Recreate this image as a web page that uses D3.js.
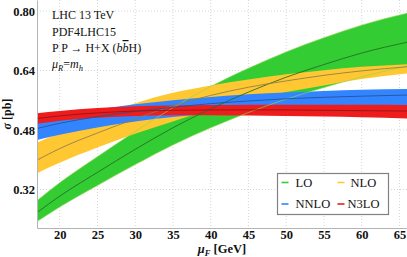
<!DOCTYPE html>
<html>
<head>
<meta charset="utf-8">
<script src="https://cdn.jsdelivr.net/npm/d3@7"></script>
<style>
  html, body { margin: 0; padding: 0; background: #fff; }
  svg { display: block; font-family: 'Liberation Serif', 'DejaVu Serif', serif; }
</style>
</head>
<body>
<div id="chart"></div>
<script>
// muF grid the bands were read at (GeV)
const muF = [17, 20, 25, 30, 35, 40, 45, 50, 55, 60, 66];

// sigma [pb]: central value and scale band per order
const loCentral = [0.258, 0.302, 0.366, 0.428, 0.486, 0.537, 0.582, 0.622, 0.656, 0.687, 0.716];
const loUpper = [0.290, 0.338, 0.408, 0.476, 0.540, 0.597, 0.646, 0.690, 0.728, 0.762, 0.794];
const loLower = [0.234, 0.273, 0.331, 0.387, 0.440, 0.486, 0.527, 0.563, 0.594, 0.623, 0.652];

const nloCentral = [0.399, 0.430, 0.472, 0.510, 0.545, 0.573, 0.595, 0.612, 0.627, 0.639, 0.650];
const nloUpper = [0.446, 0.472, 0.516, 0.552, 0.580, 0.600, 0.616, 0.630, 0.641, 0.650, 0.657];
const nloLower = [0.364, 0.392, 0.433, 0.470, 0.503, 0.535, 0.560, 0.582, 0.600, 0.617, 0.632];

const nnloCentral = [0.484, 0.498, 0.516, 0.530, 0.541, 0.551, 0.558, 0.564, 0.568, 0.571, 0.574];
const nnloUpper = [0.505, 0.517, 0.535, 0.549, 0.560, 0.569, 0.576, 0.581, 0.585, 0.588, 0.590];
const nnloLower = [0.453, 0.467, 0.487, 0.503, 0.515, 0.524, 0.532, 0.538, 0.542, 0.545, 0.547];

const n3loCentral = [0.511, 0.518, 0.526, 0.531, 0.533, 0.534, 0.534, 0.534, 0.533, 0.532, 0.531];
const n3loUpper = [0.525, 0.531, 0.539, 0.544, 0.546, 0.547, 0.548, 0.548, 0.548, 0.548, 0.547];
const n3loLower = [0.497, 0.505, 0.513, 0.518, 0.520, 0.520, 0.519, 0.518, 0.516, 0.514, 0.511];

const xTicks = [20, 25, 30, 35, 40, 45, 50, 55, 60, 65];
const yTicks = [0.32, 0.48, 0.64, 0.80];
const legendLabels = ['LO', 'NLO', 'NNLO', 'N3LO'];

const attrs = {
  svgWidth: 407,
  svgHeight: 257,
  marginLeft: 37,
  marginTop: 0,
  chartWidth: 370,
  chartHeight: 228,
  bandColors: ['#33cc33', '#ffc832', '#3385ff', '#ee1c1c'],
  lineColors: ['#256b25', '#8c7a4e', '#27508f', '#8a1717'],
};

const series = [
  { central: loCentral, upper: loUpper, lower: loLower },
  { central: nloCentral, upper: nloUpper, lower: nloLower },
  { central: nnloCentral, upper: nnloUpper, lower: nnloLower },
  { central: n3loCentral, upper: n3loUpper, lower: n3loLower },
].map((s, i) => ({
  label: legendLabels[i],
  points: muF.map((m, j) => ({ x: m, c: s.central[j], hi: s.upper[j], lo: s.lower[j] })),
}));

const svg = d3.select('#chart')
  .append('svg')
  .attr('width', attrs.svgWidth)
  .attr('height', attrs.svgHeight);

const chart = svg.append('g')
  .attr('transform', 'translate(' + attrs.marginLeft + ',' + attrs.marginTop + ')');

// Scales.
const xScale = d3.scaleLinear()
  .domain([17, 66])
  .range([0, attrs.chartWidth]);

const yScale = d3.scaleLinear()
  .domain([0.2165, 0.8296])
  .range([attrs.chartHeight, 0]);

// Grid.
chart.append('g').attr('class', 'grid')
  .selectAll('line.vx')
  .data(xTicks)
  .enter()
  .append('line')
  .attr('x1', d => xScale(d))
  .attr('x2', d => xScale(d))
  .attr('y1', 0)
  .attr('y2', attrs.chartHeight)
  .attr('stroke', '#d6d6d6')
  .attr('stroke-dasharray', '1 2');

chart.append('g').attr('class', 'grid')
  .selectAll('line.hy')
  .data(yTicks)
  .enter()
  .append('line')
  .attr('x1', 0)
  .attr('x2', attrs.chartWidth)
  .attr('y1', d => yScale(d))
  .attr('y2', d => yScale(d))
  .attr('stroke', '#d6d6d6')
  .attr('stroke-dasharray', '1 2');

// Clip for the bands.
svg.append('defs').append('clipPath')
  .attr('id', 'plot-clip')
  .append('rect')
  .attr('width', attrs.chartWidth)
  .attr('height', attrs.chartHeight);

const plot = chart.append('g').attr('clip-path', 'url(#plot-clip)');

const area = d3.area()
  .curve(d3.curveMonotoneX)
  .x(d => xScale(d.x))
  .y0(d => yScale(d.lo))
  .y1(d => yScale(d.hi));

const line = key => d3.line()
  .curve(d3.curveMonotoneX)
  .x(d => xScale(d.x))
  .y(d => yScale(d[key]));

// Bands, LO first so higher orders sit on top.
plot.selectAll('.band')
  .data(series)
  .enter()
  .append('path')
  .attr('class', 'band')
  .attr('d', d => area(d.points))
  .attr('fill', (d, i) => attrs.bandColors[i]);

// Faint LO band edges that show through the other bands.
['hi', 'lo'].forEach(key => {
  plot.append('path')
    .attr('d', line(key)(series[0].points))
    .attr('fill', 'none')
    .attr('stroke', '#8fd64a')
    .attr('stroke-opacity', 0.8)
    .attr('stroke-width', 0.8);
});

// Central lines.
plot.selectAll('.central')
  .data(series)
  .enter()
  .append('path')
  .attr('class', 'central')
  .attr('d', d => line('c')(d.points))
  .attr('fill', 'none')
  .attr('stroke', (d, i) => attrs.lineColors[i])
  .attr('stroke-opacity', 0.85)
  .attr('stroke-width', 1);

// Axes.
const xAxis = d3.axisBottom(xScale)
  .tickValues(xTicks)
  .tickSize(0)
  .tickPadding(2)
  .tickFormat(d3.format('d'));

const yAxis = d3.axisLeft(yScale)
  .tickValues(yTicks)
  .tickSize(0)
  .tickPadding(2)
  .tickFormat(d3.format('.2f'));

const gx = chart.append('g')
  .attr('transform', 'translate(0,' + attrs.chartHeight + ')')
  .call(xAxis);

const gy = chart.append('g').call(yAxis);

[gx, gy].forEach(g => {
  g.select('.domain').attr('stroke', '#b4b4b4').attr('stroke-width', 1);
  g.selectAll('text')
    .attr('font-family', "'Liberation Serif', serif")
    .attr('font-weight', 'bold')
    .attr('font-size', 12.5)
    .attr('fill', '#111');
});

// Axis titles.
const xTitle = svg.append('text')
  .attr('x', 222)
  .attr('y', 253)
  .attr('text-anchor', 'middle')
  .attr('font-size', 12.5)
  .attr('font-weight', 'bold')
  .attr('fill', '#111');
xTitle.append('tspan').attr('font-style', 'italic').text('μ');
xTitle.append('tspan').attr('font-style', 'italic').attr('font-size', 8.5).attr('dy', 2.5).text('F');
xTitle.append('tspan').attr('dy', -2.5).text(' [GeV]');

const yTitle = svg.append('text')
  .attr('transform', 'translate(11,114) rotate(-90)')
  .attr('text-anchor', 'middle')
  .attr('font-size', 12)
  .attr('font-weight', 'bold')
  .attr('fill', '#111');
yTitle.append('tspan').attr('font-style', 'italic').text('σ');
yTitle.append('tspan').text(' [pb]');

// Annotation.
const note = svg.append('g')
  .attr('font-size', 12)
  .attr('fill', '#111');

note.append('text').attr('x', 52).attr('y', 19).text('LHC 13 TeV');
note.append('text').attr('x', 52).attr('y', 35.5).text('PDF4LHC15');

const proc = note.append('text').attr('x', 52).attr('y', 52);
proc.append('tspan').text('P P → H+X (');
proc.append('tspan').attr('font-style', 'italic').text('b');
proc.append('tspan').attr('font-style', 'italic').attr('text-decoration', 'overline').text('b');
proc.append('tspan').text('H)');

const scaleNote = note.append('text').attr('x', 52).attr('y', 68);
scaleNote.append('tspan').attr('font-style', 'italic').text('μ');
scaleNote.append('tspan').attr('font-style', 'italic').attr('font-size', 8.5).attr('dy', 2.5).text('R');
scaleNote.append('tspan').attr('dy', -2.5).text('=');
scaleNote.append('tspan').attr('font-style', 'italic').text('m');
scaleNote.append('tspan').attr('font-style', 'italic').attr('font-size', 8.5).attr('dy', 2.5).text('h');

// Legend.
const legend = svg.append('g').attr('transform', 'translate(277.5,173.5)');

legend.append('rect')
  .attr('width', 111)
  .attr('height', 41)
  .attr('fill', '#fff')
  .attr('stroke', '#808080')
  .attr('stroke-width', 1.2);

const legendItem = legend.selectAll('.legend-item')
  .data(legendLabels)
  .enter()
  .append('g')
  .attr('class', 'legend-item')
  .attr('transform', (d, i) => 'translate(' + (i % 2 === 0 ? 4 : 60) + ',' + (i < 2 ? 9 : 30.5) + ')');

legendItem.append('line')
  .attr('x1', 0)
  .attr('x2', 7)
  .attr('stroke', (d, i) => attrs.bandColors[i])
  .attr('stroke-width', 1.6);

legendItem.append('text')
  .attr('x', (d, i) => (i === 3 ? 10 : (i === 1 ? 13 : 14)))
  .attr('y', 4.3)
  .attr('font-size', 12.5)
  .attr('fill', '#111')
  .text(d => d);
</script>
</body>
</html>
